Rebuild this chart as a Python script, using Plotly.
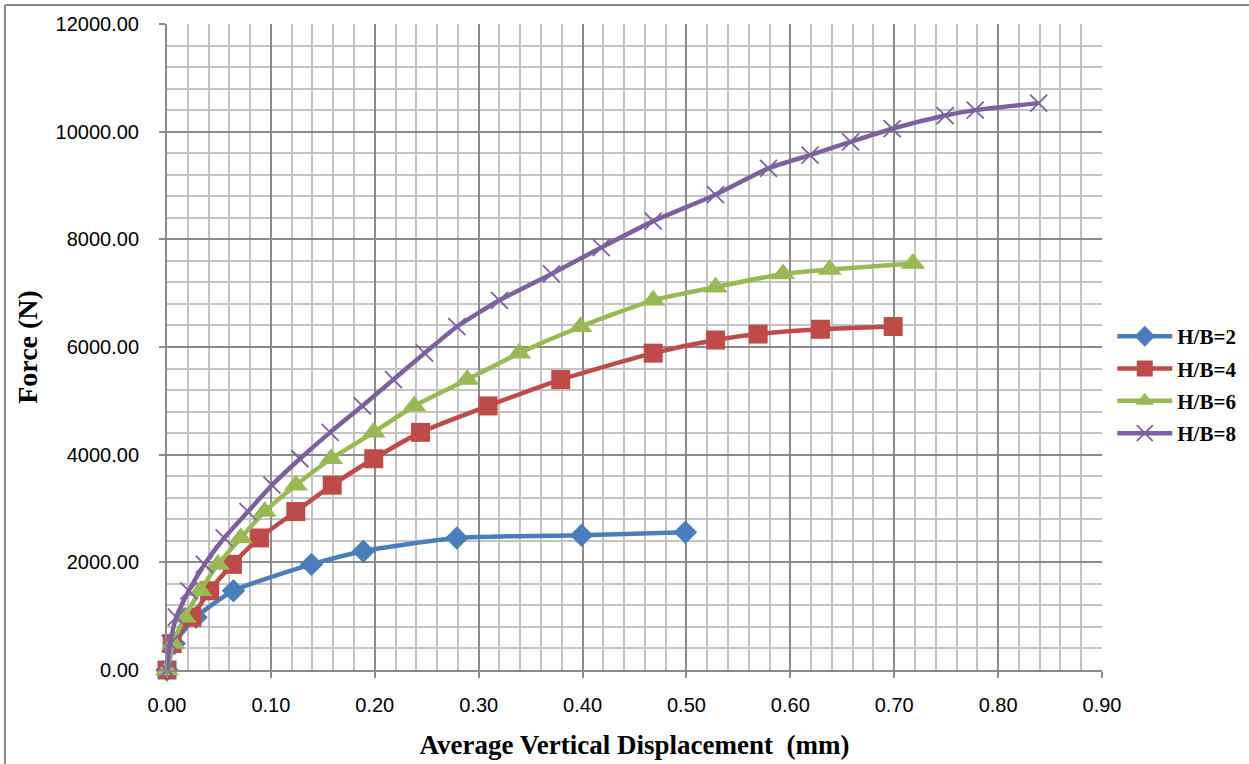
import plotly.graph_objects as go

# ---- data ----
hb2_x = [0.0, 0.007, 0.028, 0.064, 0.139, 0.189, 0.279, 0.399, 0.499]
hb2_y = [0.0, 490.5, 981.0, 1471.5, 1962.0, 2207.0, 2452.5, 2505.0, 2560.0]

hb4_x = [0.0, 0.005, 0.024, 0.041, 0.063, 0.089, 0.124, 0.159, 0.199, 0.244, 0.309, 0.379, 0.468, 0.528, 0.569, 0.629, 0.699]
hb4_y = [0.0, 490.5, 981.0, 1471.5, 1962.0, 2452.5, 2943.0, 3433.5, 3924.0, 4414.5, 4905.0, 5395.5, 5886.0, 6130.0, 6240.0, 6330.0, 6380.0]

hb6_x = [0.0, 0.006, 0.017, 0.032, 0.049, 0.071, 0.094, 0.124, 0.158, 0.199, 0.238, 0.289, 0.339, 0.398, 0.468, 0.528, 0.593, 0.638, 0.718]
hb6_y = [0.0, 490.5, 981.0, 1471.5, 1962.0, 2452.5, 2943.0, 3433.5, 3924.0, 4414.5, 4905.0, 5395.5, 5886.0, 6376.5, 6867.0, 7112.0, 7357.5, 7440.0, 7550.0]

hb8_x = [0.0, 0.003, 0.009, 0.021, 0.036, 0.055, 0.078, 0.101, 0.128, 0.157, 0.188, 0.218, 0.248, 0.279, 0.32, 0.37, 0.418, 0.468, 0.528, 0.579, 0.619, 0.658, 0.698, 0.749, 0.778, 0.839]
hb8_y = [0.0, 490.5, 981.0, 1471.5, 1962.0, 2452.5, 2943.0, 3433.5, 3924.0, 4414.5, 4905.0, 5395.5, 5886.0, 6376.5, 6867.0, 7357.5, 7848.0, 8338.5, 8829.0, 9319.5, 9565.0, 9810.0, 10055.0, 10300.0, 10400.0, 10530.0]

names = ["H/B=2", "H/B=4", "H/B=6", "H/B=8"]
xtick_vals = [0.0, 0.1, 0.2, 0.3, 0.4, 0.5, 0.6, 0.7, 0.8, 0.9]
ytick_vals = [0, 2000, 4000, 6000, 8000, 10000, 12000]

fig = go.Figure()

series = [
    (hb2_x, hb2_y, names[0], "#4a7ebb", dict(symbol="diamond", size=18)),
    (hb4_x, hb4_y, names[1], "#be4b48", dict(symbol="square", size=19)),
    (hb6_x, hb6_y, names[2], "#98b954", dict(symbol="triangle-up", size=21)),
    (hb8_x, hb8_y, names[3], "#7d60a0", dict(symbol="x-thin", size=17,
                                             line=dict(width=1.8, color="#7d60a0"))),
]
for x, y, n, c, m in series:
    mk = dict(color=c, **m)
    fig.add_trace(go.Scatter(x=x, y=y, name=n, legendgroup=n, mode="lines+markers",
                             line=dict(color=c, width=4.5, shape="spline", smoothing=0.6),
                             marker=mk, cliponaxis=False))

minor_grid = dict(showgrid=True, gridcolor="#c3c3c3", gridwidth=2)

fig.update_xaxes(range=[0, 0.9], tickvals=xtick_vals, tickformat=".2f",
                 showgrid=True, gridcolor="#8a8a8a", gridwidth=2,
                 minor=dict(dtick=0.02, **minor_grid),
                 showline=True, linecolor="#8a8a8a", linewidth=2,
                 ticks="outside", ticklen=6, tickcolor="#8a8a8a", tickwidth=1.5,
                 ticklabelstandoff=10, automargin=False,
                 zeroline=False, mirror=False,
                 tickfont=dict(family="Liberation Sans, Arial", size=20, color="#000"),
                 title=dict(text="<b>Average Vertical Displacement  (mm)</b>",
                            font=dict(family="Liberation Serif, Times New Roman", size=27, color="#000"),
                            standoff=20))
fig.update_yaxes(range=[0, 12000], tickvals=ytick_vals, tickformat=".2f",
                 showgrid=True, gridcolor="#8a8a8a", gridwidth=2,
                 minor=dict(dtick=400, **minor_grid),
                 showline=True, linecolor="#8a8a8a", linewidth=2,
                 ticks="outside", ticklen=6, tickcolor="#8a8a8a", tickwidth=1.5,
                 ticklabelstandoff=16, automargin=False,
                 zeroline=False,
                 tickfont=dict(family="Liberation Sans, Arial", size=20, color="#000"),
                 title=dict(text="<b>Force (N)</b>",
                            font=dict(family="Liberation Serif, Times New Roman", size=28, color="#000"),
                            standoff=10))

# outer chart border
fig.add_shape(type="line", xref="paper", yref="paper",
              x0=(5 - 167) / 935, x1=(5 - 167) / 935, y0=-0.2, y1=1 + 19 / 646.5,
              line=dict(color="#8a8a8a", width=2))
fig.add_shape(type="line", xref="paper", yref="paper",
              x0=(5 - 167) / 935, x1=1.2, y0=1 + 19 / 646.5, y1=1 + 19 / 646.5,
              line=dict(color="#8a8a8a", width=2))

fig.update_layout(
    width=1249, height=764,
    margin=dict(l=167, r=147, t=24, b=94, autoexpand=False),
    paper_bgcolor="white", plot_bgcolor="white",
    showlegend=True,
    legend=dict(x=1.011, y=0.441, xanchor="left", yanchor="middle",
                font=dict(family="Liberation Serif, Times New Roman", size=21, color="#000", weight="bold"),
                bgcolor="rgba(0,0,0,0)", tracegroupgap=2, itemwidth=55),
)

fig.write_html("out.html")
